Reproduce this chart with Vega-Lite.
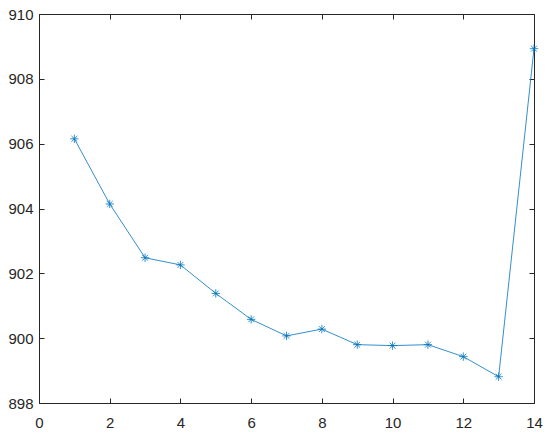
{
  "$schema": "https://vega.github.io/schema/vega-lite/v6.json",
  "width": 495,
  "height": 389,
  "autosize": "none",
  "padding": {"left": 39, "top": 14, "right": 16, "bottom": 30},
  "background": "white",
  "config": {
    "view": {"stroke": "#262626", "strokeWidth": 1},
    "axis": {
      "domainColor": "#262626",
      "tickColor": "#262626",
      "labelColor": "#262626",
      "labelFont": "Liberation Sans",
      "labelFontSize": 15,
      "grid": false,
      "tickSize": -5,
      "title": null
    }
  },
  "data": {"values": [
    {"x": 1, "y": 906.15},
    {"x": 2, "y": 904.14},
    {"x": 3, "y": 902.48},
    {"x": 4, "y": 902.26},
    {"x": 5, "y": 901.38},
    {"x": 6, "y": 900.58},
    {"x": 7, "y": 900.07},
    {"x": 8, "y": 900.28},
    {"x": 9, "y": 899.8},
    {"x": 10, "y": 899.77},
    {"x": 11, "y": 899.8},
    {"x": 12, "y": 899.43},
    {"x": 13, "y": 898.81},
    {"x": 14, "y": 908.93}
  ]},
  "layer": [
    {
      "mark": {"type": "line", "color": "#0072BD", "strokeWidth": 0.8},
      "encoding": {
        "x": {"field": "x", "type": "quantitative", "scale": {"domain": [0, 14], "nice": false, "zero": false},
              "axis": {"orient": "bottom", "values": [0,2,4,6,8,10,12,14], "labelPadding": 17, "labelFlush": false}},
        "y": {"field": "y", "type": "quantitative", "scale": {"domain": [898, 910], "nice": false, "zero": false},
              "axis": {"orient": "left", "values": [898,900,902,904,906,908,910], "labelPadding": 11, "labelFlush": false}}
      }
    },
    {
      "mark": {"type": "point", "shape": "M-1,0L1,0M0,-1L0,1M-0.7,-0.7L0.7,0.7M-0.7,0.7L0.7,-0.7", "filled": false, "color": "#0072BD", "strokeWidth": 0.8, "size": 70, "opacity": 1},
      "encoding": {
        "x": {"field": "x", "type": "quantitative",
              "axis": {"orient": "top", "values": [0,2,4,6,8,10,12,14], "labels": false, "domain": false}},
        "y": {"field": "y", "type": "quantitative",
              "axis": {"orient": "right", "values": [898,900,902,904,906,908,910], "labels": false, "domain": false}}
      }
    }
  ],
  "resolve": {"axis": {"x": "independent", "y": "independent"}}
}
